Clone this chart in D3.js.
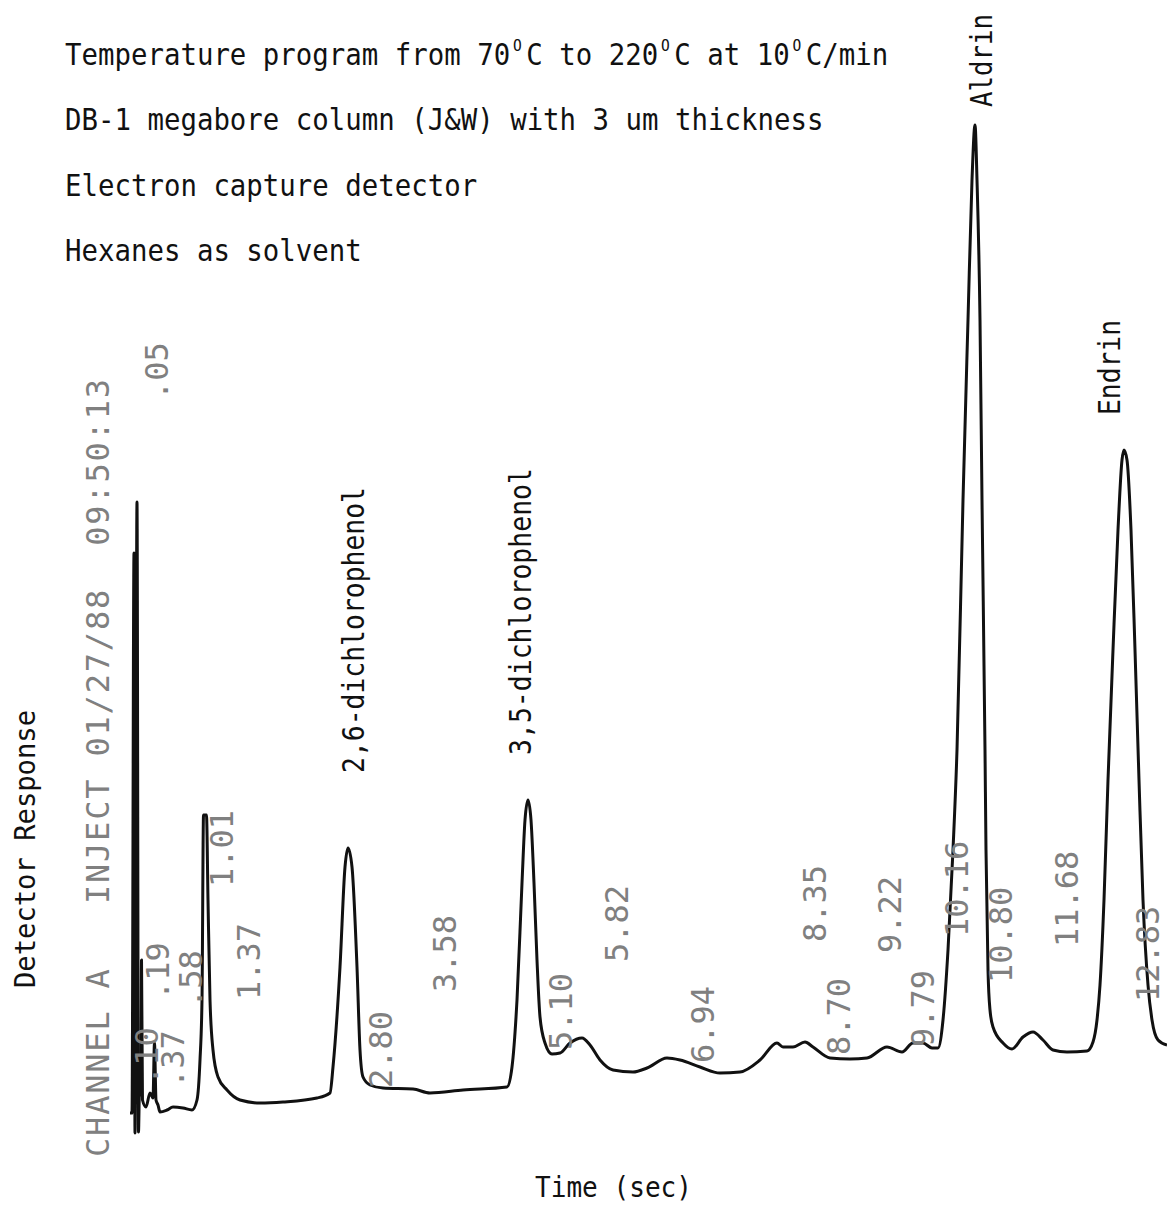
<!DOCTYPE html>
<html>
<head>
<meta charset="utf-8">
<script src="https://cdn.jsdelivr.net/npm/d3@7"></script>
<style>
  html, body { margin: 0; padding: 0; background: #fff; }
  svg { display: block; }
  .tw { font-family: "DejaVu Sans Mono", monospace; fill: #111; }
  .dm { font-family: "DejaVu Sans Mono", monospace; fill: #808080; white-space: pre; }
</style>
</head>
<body>
<div id="chart"></div>
<script>
// run conditions printed above the trace ("|" marks a raised degree O)
const conditionLines = [
  'Temperature program from 70|C to 220|C at 10|C/min',
  'DB-1 megabore column (J&W) with 3 um thickness',
  'Electron capture detector',
  'Hexanes as solvent'
];

// detector trace, time in minutes, response in arbitrary units
const traceTime = [
  0, 0.025, 0.05, 0.0625, 0.0875, 0.106, 0.119, 0.1375, 0.144, 0.156,
  0.2, 0.25, 0.2875, 0.306, 0.325, 0.35, 0.375, 0.4625, 0.5375, 0.6625,
  0.775, 0.8375, 0.875, 0.9, 0.919, 0.956, 0.975, 1.0, 1.0375, 1.1,
  1.2125, 1.375, 1.625, 1.9125, 2.3375, 2.5, 2.5375, 2.625, 2.6875, 2.725,
  2.775, 2.8375, 2.875, 2.9125, 3.0, 3.1625, 3.5375, 3.75, 4.1625, 4.7125,
  4.775, 4.8375, 4.9, 4.9375, 4.975, 5.0125, 5.05, 5.0875, 5.125, 5.1875,
  5.275, 5.375, 5.5, 5.65, 5.75, 5.875, 6.0375, 6.2875, 6.4625, 6.7125,
  6.875, 7.125, 7.375, 7.625, 7.875, 8.0875, 8.1625, 8.2875, 8.4375, 8.5375,
  8.75, 9.0, 9.2125, 9.4625, 9.65, 9.7875, 9.9125, 10.025, 10.1, 10.1625,
  10.225, 10.2875, 10.3375, 10.4125, 10.475, 10.525, 10.5625, 10.5875, 10.625, 10.65,
  10.6875, 10.7, 10.725, 10.75, 10.7875, 10.9125, 11.025, 11.1625, 11.2875, 11.4125,
  11.5375, 11.7125, 11.9625, 12.0375, 12.0875, 12.125, 12.175, 12.225, 12.2875, 12.35,
  12.4, 12.425, 12.4625, 12.5125, 12.5625, 12.6125, 12.6625, 12.725, 12.775, 12.85,
  12.9625
];
const traceResponse = [
  -0.3, -0.3, 55.7, -2.3, 60.8, -2.2, 2.0, 1.5, 15.0, 1.0,
  0.3, 1.7, 1.2, 6.7, 1.0, 0.5, -0.2, 0.0, 0.3, 0.2,
  0.0, 1.0, 5.0, 11.0, 29.5, 29.5, 21.0, 11.0, 6.0, 3.3,
  2.0, 1.0, 0.7, 0.8, 1.2, 1.7, 4.3, 14.3, 24.3, 26.2,
  24.3, 14.3, 6.0, 3.3, 2.5, 2.2, 2.1, 1.7, 2.0, 2.3,
  4.3, 11.0, 22.7, 29.0, 31.0, 29.0, 22.7, 15.0, 9.3, 6.7,
  5.6, 5.7, 6.7, 7.2, 6.5, 5.0, 4.0, 3.8, 4.2, 5.2,
  5.0, 4.3, 3.7, 3.8, 5.0, 6.7, 6.3, 6.3, 6.8, 6.3,
  5.2, 5.1, 5.2, 6.3, 5.8, 6.7, 6.7, 6.2, 6.2, 9.0,
  16.0, 26.0, 36.0, 61.0, 79.0, 93.0, 98.5, 93.0, 79.0, 61.0,
  36.0, 26.0, 14.0, 10.0, 8.3, 6.7, 6.1, 7.3, 7.8, 7.0,
  6.0, 5.8, 5.9, 6.8, 9.0, 12.5, 21.0, 33.0, 46.0, 58.0,
  65.0, 66.0, 65.0, 58.0, 46.0, 33.0, 21.0, 12.5, 9.0, 7.0,
  6.5
];

// integrator retention-time printouts: text, time where printed, response level of its start
const rtText  = ['.05', '.10', '.19', '.37', '.58', '1.01', '1.37', '2.80', '3.58', '5.10',
                 '5.82', '6.94', '8.35', '8.70', '9.22', '9.79', '10.16', '10.80', '11.68', '12.83'];
const rtTime  = [0.34, 0.21, 0.35, 0.53, 0.76, 1.15, 1.48, 3.13, 3.94, 5.39,
                 6.09, 7.16, 8.56, 8.86, 9.50, 9.91, 10.34, 10.89, 11.71, 12.72];
const rtLevel = [71.0, 2.5, 11.0, 2.2, 10.2, 22.3, 11.0, 2.2, 11.8, 6.0,
                 14.8, 4.7, 16.8, 5.5, 15.7, 6.3, 17.3, 12.7, 16.3, 10.8];

// compound names above their peaks
const compoundNames  = ['2,6-dichlorophenol', '3,5-dichlorophenol', 'Aldrin', 'Endrin'];
const compoundTime   = [2.79, 4.875, 10.64, 12.24];
const compoundLevel  = [33.7, 35.5, 100.3, 69.5];
const compoundLength = [286, 287, 93, 95];

const headerText = 'CHANNEL A   INJECT 01/27/88  09:50:13';

const width = 1167;
const height = 1208;

const svg = d3.select('#chart')
  .append('svg')
  .attr('width', width)
  .attr('height', height);

const x = d3.scaleLinear().domain([0, 13]).range([130, 1170]);
const y = d3.scaleLinear().domain([0, 100]).range([1110, 110]);

// condition text block, typewriter letters are narrow so squeeze horizontally
conditionLines.forEach((line, i) => {
  const t = svg.append('text')
    .attr('class', 'tw')
    .attr('font-size', 30)
    .attr('transform', `translate(65,${65 + i * 65.3}) scale(0.913,1)`);
  line.split('|').forEach((p, j) => {
    if (j > 0) {
      t.append('tspan').attr('font-size', 16).attr('dx', 3).attr('dy', -14).text('O');
      t.append('tspan').attr('dx', 5).attr('dy', 14).text(p);
    } else {
      t.append('tspan').text(p);
    }
  });
});

// printer header along the left side
svg.append('text')
  .attr('class', 'dm')
  .attr('transform', 'translate(98,1157) rotate(-90)')
  .attr('dy', '0.35em')
  .attr('font-size', 32)
  .attr('textLength', 778)
  .attr('lengthAdjust', 'spacing')
  .text(headerText);

// trace
const points = traceTime.map((t, i) => [t, traceResponse[i]]);
const line = d3.line()
  .x(d => x(d[0]))
  .y(d => y(d[1]))
  .curve(d3.curveMonotoneX);

svg.append('path')
  .datum(points)
  .attr('d', line)
  .attr('fill', 'none')
  .attr('stroke', '#111')
  .attr('stroke-width', 3)
  .attr('stroke-linejoin', 'round');

// retention time printouts
svg.append('g')
  .selectAll('text')
  .data(rtText)
  .enter()
  .append('text')
  .attr('class', 'dm')
  .attr('font-size', 32)
  .attr('dy', '0.35em')
  .attr('transform', (d, i) => `translate(${x(rtTime[i])},${y(rtLevel[i])}) rotate(-90)`)
  .text(d => d);

// compound names
svg.append('g')
  .selectAll('text')
  .data(compoundNames)
  .enter()
  .append('text')
  .attr('class', 'tw')
  .attr('font-size', 30)
  .attr('dy', '0.35em')
  .attr('textLength', (d, i) => compoundLength[i])
  .attr('lengthAdjust', 'spacingAndGlyphs')
  .attr('transform', (d, i) => `translate(${x(compoundTime[i])},${y(compoundLevel[i])}) rotate(-90)`)
  .text(d => d);

// axis titles
svg.append('text')
  .attr('class', 'tw')
  .attr('x', 535)
  .attr('y', 1197)
  .attr('font-size', 28)
  .attr('textLength', 157)
  .attr('lengthAdjust', 'spacingAndGlyphs')
  .text('Time (sec)');

svg.append('text')
  .attr('class', 'tw')
  .attr('transform', 'translate(25,988) rotate(-90)')
  .attr('dy', '0.35em')
  .attr('font-size', 28)
  .attr('textLength', 278)
  .attr('lengthAdjust', 'spacingAndGlyphs')
  .text('Detector Response');
</script>
</body>
</html>
